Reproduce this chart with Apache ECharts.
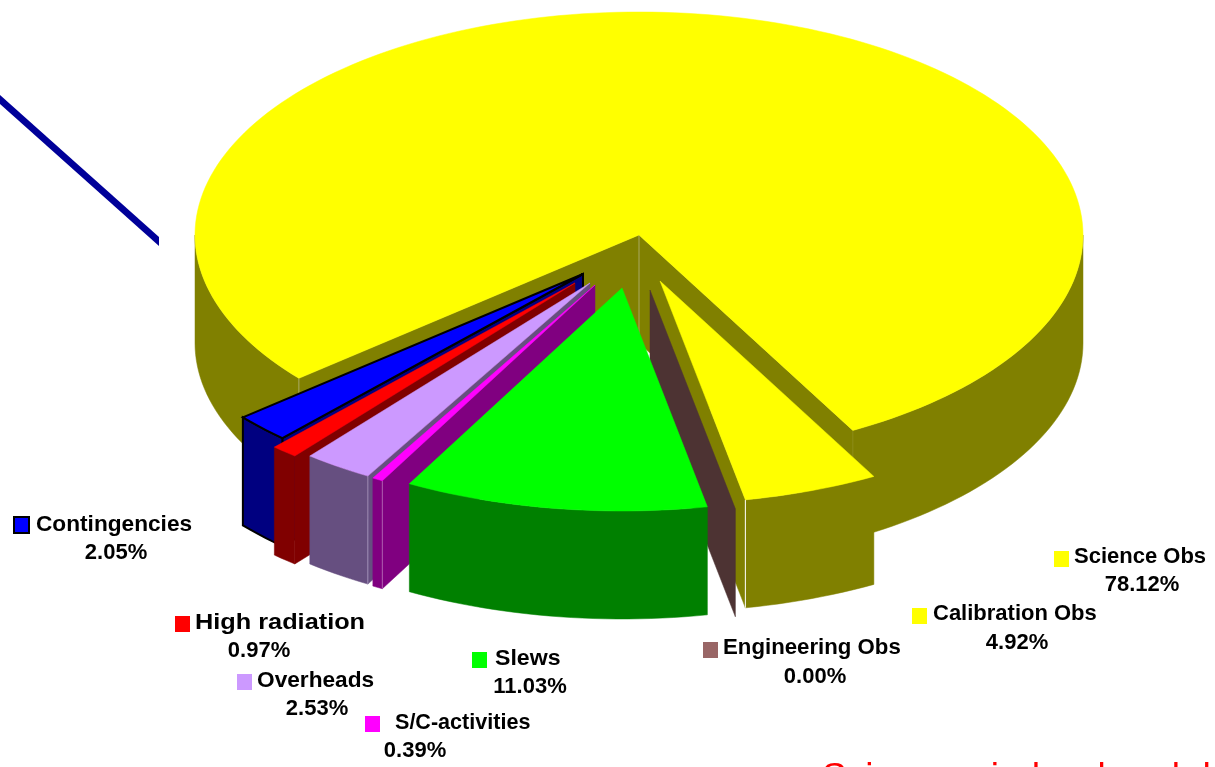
<!DOCTYPE html>
<html><head><meta charset="utf-8">
<style>html,body{margin:0;padding:0;background:#fff}#c{width:1215px;height:767px}</style>
<script src="https://cdn.jsdelivr.net/npm/echarts@6/dist/echarts.min.js"></script>
</head><body><div id="c"></div>
<script>
// ---- data ----
const names = ['Science Obs','Calibration Obs','Engineering Obs','Slews','S/C-activities','Overheads','High radiation','Contingencies'];
const shares = [78.12,4.92,0.00,11.03,0.39,2.53,0.97,2.05];
const valueLabels = ['78.12%','4.92%','0.00%','11.03%','0.39%','2.53%','0.97%','2.05%'];
const footerText = 'Science window breakdown';
// ---- styles ----
const topColors = ['#FFFF00','#FFFF00','#996666','#00FF00','#FF00FF','#CC99FF','#FF0000','#0000FF'];
const wallColors = ['#808000','#808000','#4D3333','#008000','#800080','#664F80','#800000','#000080'];
const outlineColors = [null,null,null,null,null,null,null,'#000000'];
// pull-out of each slice from the pie centre, px on screen
const pullX = [0,21,11,-17,-44,-49,-64,-56];
const pullY = [0,46,55,53,50,48,48,39];
// paint order back to front
const paintOrder = [0,1,2,7,6,5,4,3];
// key box left, key box top, name left, name centre y, value centre x, value centre y
const labelLayout = [
 [1054,551,1074,557,1142,585],
 [912,608,933,614,1017,643],
 [703,642,723,648,815,677],
 [472,652,495,659,530,687],
 [365,716,395,723,415,751],
 [237,674,257,681,317,709],
 [175,616,195,623,259,651],
 [14,517,36,525,116,553]
];
const nameStretch = [1.0,1.0,1.01,1.05,0.98,1.03,1.15,1.03];
const pie = {cx:639,cy:235,rx:444,ry:223,depth:108,startAngle:140};

const total = shares.reduce((a,b)=>a+b,0);
let acc = pie.startAngle;
const spans = shares.map(v=>{const s=acc;acc+=v/total*360;return [s,acc];});
const rad = d=>d*Math.PI/180;

function arcPts(ax,ay,a0,a1){
  const pts=[];const n=Math.max(1,Math.ceil((a1-a0)/1.5));
  for(let i=0;i<=n;i++){const a=rad(a0+(a1-a0)*i/n);pts.push([ax+pie.rx*Math.cos(a),ay+pie.ry*Math.sin(a)]);}
  return pts;
}
const poly=(points,fill,stroke,lw)=>({type:'polygon',shape:{points},style:{fill,stroke:stroke||fill,lineWidth:stroke?(lw||2):0.5}});
const vline=(x,y1,y2,stroke)=>({type:'line',shape:{x1:x,y1,x2:x,y2},style:{stroke,lineWidth:1}});
function faceFor(ax,ay,a,fill,stroke){
  const p=[ax+pie.rx*Math.cos(rad(a)),ay+pie.ry*Math.sin(rad(a))];
  return poly([[ax,ay],p,[p[0],p[1]+pie.depth],[ax,ay+pie.depth]],fill,stroke);
}
function sliceElements(i){
  const [a0,a1]=spans[i];
  const ax=pie.cx+pullX[i],ay=pie.cy+pullY[i];
  const wall=wallColors[i],top=topColors[i],ol=outlineColors[i];
  const els=[];
  const cornerX=a=>ax+pie.rx*Math.cos(rad(a)), cornerY=a=>ay+pie.ry*Math.sin(rad(a));
  if(Math.cos(rad(a0))<0) els.push(faceFor(ax,ay,a0,wall,ol));
  if(Math.cos(rad(a1))>0) els.push(faceFor(ax,ay,a1,wall,ol));
  [[a0,a1],[a0-360,a1-360],[a0+360,a1+360]].forEach(([s,e])=>{
    const lo=Math.max(s,0),hi=Math.min(e,180);
    if(hi>lo){
      const up=arcPts(ax,ay,lo,hi);
      const dn=up.map(p=>[p[0],p[1]+pie.depth]).reverse();
      els.push(poly(up.concat(dn),wall,ol));
    }
  });
  // seams at the vertical corners
  if(i===0){
    els.push(vline(cornerX(a0),cornerY(a0),cornerY(a0)+pie.depth,'#A8A860'));
    els.push(vline(ax,ay,ay+pie.depth,'#A8A860'));
    els.push(vline(cornerX(a1),cornerY(a1),cornerY(a1)+pie.depth,'#8A8A14'));
  }
  if(i===1) els.push(vline(cornerX(a1),cornerY(a1),cornerY(a1)+pie.depth,'#FFFFFF'));
  if(i===5) els.push(vline(cornerX(a0),cornerY(a0),cornerY(a0)+pie.depth,'#A090B8'));
  if(i===4) els.push(vline(cornerX(a0),cornerY(a0),cornerY(a0)+pie.depth,'#B060B0'));
  if(a1>a0) els.push(poly([[ax,ay]].concat(arcPts(ax,ay,a0,a1)),top,ol));
  return els;
}
function labelElements(i){
  const [kx,ky,nx,ny,vx,vy]=labelLayout[i];
  const font={fontFamily:'Liberation Sans',fontWeight:'bold',fontSize:22,fill:'#000'};
  return [
    {type:'rect',shape:{x:kx,y:ky,width:15,height:16},style:{fill:topColors[i],stroke:outlineColors[i]||topColors[i],lineWidth:outlineColors[i]?2:0}},
    {type:'text',x:nx,y:ny,scaleX:nameStretch[i],style:Object.assign({text:names[i],x:0,y:0,align:'left',verticalAlign:'middle'},font)},
    {type:'text',style:Object.assign({text:valueLabels[i],x:vx,y:vy,align:'center',verticalAlign:'middle'},font)}
  ];
}

const chart=echarts.init(document.getElementById('c'),null,{renderer:'canvas',width:1215,height:767});
chart.setOption({
  animation:false,
  backgroundColor:'#fff',
  graphic:[
    {type:'polygon',silent:true,shape:{points:[[0,95],[159,237],[159,246],[0,104]]},style:{fill:'#000099'}},
    {type:'text',silent:true,style:{text:footerText,x:822,y:760,fontFamily:'Liberation Sans',fontSize:37,fill:'#FF0000',verticalAlign:'top'}}
  ],
  xAxis:{show:false,min:0,max:1},yAxis:{show:false,min:0,max:1},
  grid:{left:0,right:0,top:0,bottom:0},
  series:[
    {type:'custom',coordinateSystem:'none',silent:true,clip:false,z:2,
     data:paintOrder,
     renderItem:(p)=>({type:'group',children:sliceElements(paintOrder[p.dataIndex])})},
    {type:'custom',coordinateSystem:'none',silent:true,clip:false,z:3,
     data:names.map((n,i)=>i),
     renderItem:(p)=>({type:'group',children:labelElements(p.dataIndex)})}
  ]
});
</script></body></html>
